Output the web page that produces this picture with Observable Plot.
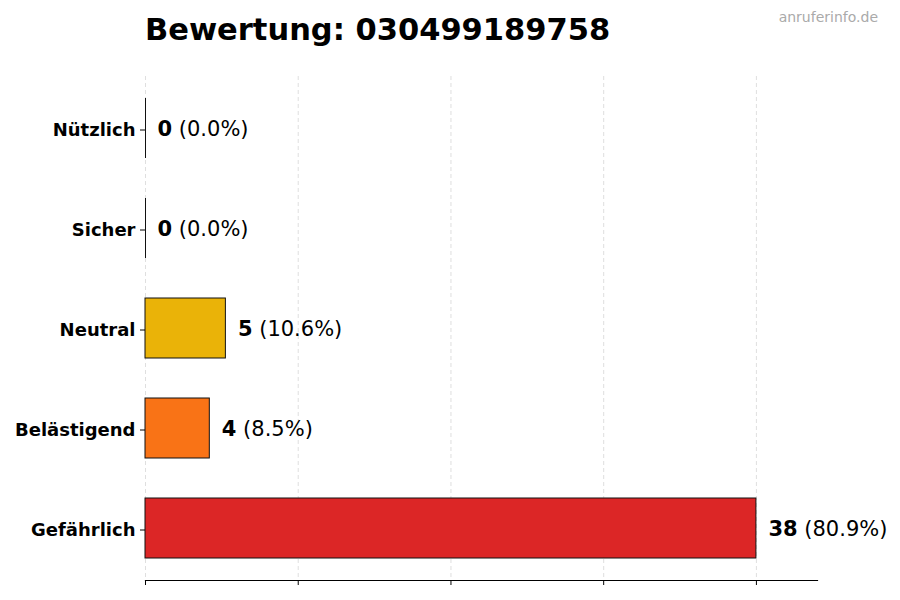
<!DOCTYPE html>
<html><head><meta charset="utf-8">
<script src="https://cdn.jsdelivr.net/npm/d3@7"></script>
<script src="https://cdn.jsdelivr.net/npm/@observablehq/plot@0.6"></script>
<style>
body{margin:0;background:#fff;font-family:"DejaVu Sans",sans-serif;}
#wrap{position:relative;width:900px;}
#head{position:relative;height:60px;}
#title{position:absolute;left:145px;top:12px;font-size:30.5px;font-weight:bold;color:#000;white-space:nowrap;}
#wm{position:absolute;right:22px;top:9px;font-size:14px;color:#aaaaaa;}
</style></head>
<body><div id="wrap"><div id="head"><div id="title">Bewertung: 030499189758</div><div id="wm">anruferinfo.de</div></div><div id="chart"></div></div>
<script>
const categories = ["Nützlich","Sicher","Neutral","Belästigend","Gefährlich"];
const counts = [0,0,5,4,38];
const percents = ["0.0%","0.0%","10.6%","8.5%","80.9%"];
const colors = ["#22c55e","#3b82f6","#eab308","#f97316","#dc2626"];
const xTicks = [0,9.5,19,28.5,38];

const data = categories.map((c,i)=>({cat:c,n:counts[i],pct:percents[i],color:colors[i]}));

const chart = Plot.plot({
  width:900, height:540,
  marginLeft:145, marginRight:83, marginTop:16, marginBottom:20,
  style:{fontFamily:"DejaVu Sans, sans-serif", background:"#fff"},
  x:{domain:[0,41.8], label:null},
  y:{domain:categories, paddingInner:0.4, paddingOuter:0.22, label:null},
  marks:[
    Plot.gridX(xTicks,{stroke:"#bbb", strokeOpacity:0.6, strokeDasharray:"4,3", strokeWidth:0.8}),
    Plot.barX(data,{y:"cat", x:"n", fill:"color", stroke:"#111", strokeWidth:1}),
    Plot.tickX(data.filter(d=>d.n===0),{y:"cat", x:"n", stroke:"#111", strokeWidth:1}),
    Plot.text(data,{y:"cat", x:"n", text:d=>d.n+" ("+d.pct+")", textAnchor:"start", dx:12, dy:1, fontSize:21, fill:"#000", className:"vlab"}),
    Plot.axisX({ticks:xTicks, tickFormat:()=>"", tickSize:5, stroke:"#000", label:null}),
    Plot.axisY({tickSize:5, fontSize:18, fontWeight:"bold", fill:"#000", tickPadding:5, dy:1.5, stroke:"#000", label:null}),
    Plot.frame({anchor:"bottom", stroke:"#000", strokeWidth:1.2})
  ]
});
document.getElementById("chart").appendChild(chart);
d3.select(chart).selectAll("g.vlab text").each(function(d,i){
  const t = d3.select(this);
  const row = data[d];
  t.text(null);
  t.append("tspan").attr("font-weight","bold").text(row.n);
  t.append("tspan").text(" ("+row.pct+")");
});
</script></body></html>
